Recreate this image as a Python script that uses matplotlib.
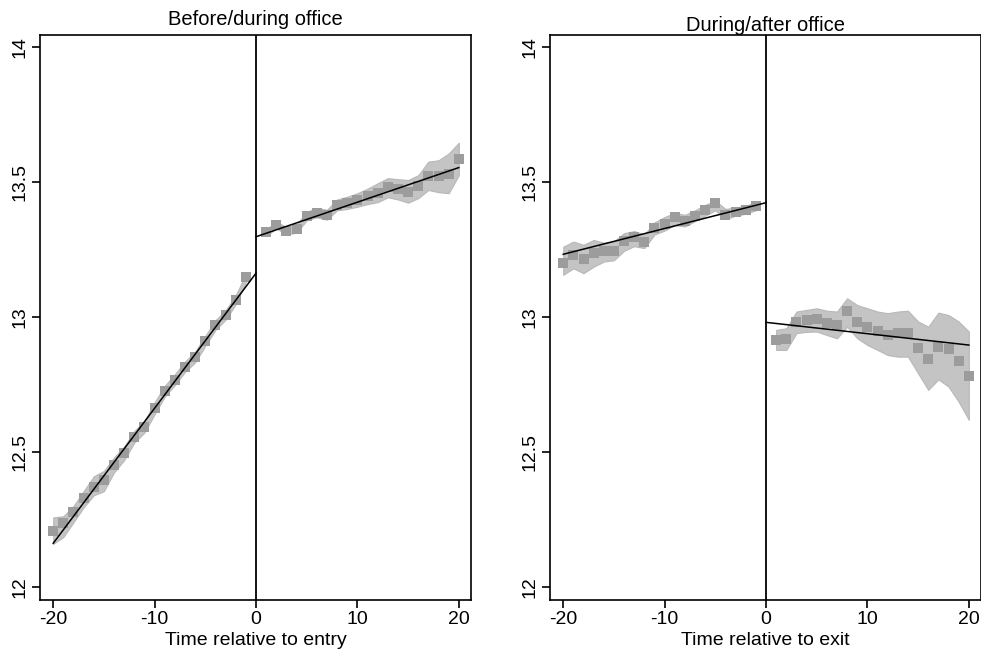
import numpy as np
from matplotlib import pyplot as plt

plt.rcParams['font.family'] = ['Liberation Sans', 'DejaVu Sans']
plt.rcParams['axes.unicode_minus'] = False

# left panel: time relative to entry
entry_pre_t = list(range(-20, 0))
entry_pre_y = [12.209, 12.236, 12.279, 12.328, 12.372, 12.396, 12.452, 12.495, 12.557, 12.594,
               12.662, 12.727, 12.767, 12.815, 12.852, 12.912, 12.970, 13.007, 13.063, 13.147]
entry_pre_lo = [12.160, 12.185, 12.240, 12.295, 12.340, 12.355, 12.425, 12.470, 12.535, 12.572,
                12.640, 12.705, 12.748, 12.797, 12.832, 12.893, 12.952, 12.990, 13.047, 13.130]
entry_pre_hi = [12.258, 12.262, 12.300, 12.355, 12.410, 12.430, 12.480, 12.520, 12.578, 12.615,
                12.684, 12.745, 12.788, 12.835, 12.872, 12.930, 12.988, 13.025, 13.080, 13.160]
entry_post_t = list(range(1, 21))
entry_post_y = [13.314, 13.341, 13.319, 13.327, 13.374, 13.386, 13.378, 13.415, 13.423, 13.433,
                13.446, 13.460, 13.480, 13.473, 13.464, 13.483, 13.522, 13.520, 13.528, 13.584]
entry_post_lo = [13.300, 13.328, 13.305, 13.312, 13.358, 13.369, 13.360, 13.395, 13.400, 13.408,
                 13.418, 13.425, 13.443, 13.435, 13.423, 13.440, 13.470, 13.462, 13.458, 13.525]
entry_post_hi = [13.325, 13.352, 13.333, 13.342, 13.390, 13.402, 13.397, 13.435, 13.445, 13.458,
                 13.475, 13.495, 13.514, 13.510, 13.507, 13.525, 13.575, 13.580, 13.605, 13.645]
entry_fit_pre = ([-20, 0], [12.162, 13.162])
entry_fit_post = ([0, 20], [13.297, 13.553])

# right panel: time relative to exit
exit_pre_t = list(range(-20, 0))
exit_pre_y = [13.199, 13.230, 13.214, 13.236, 13.246, 13.246, 13.281, 13.295, 13.279, 13.329,
              13.344, 13.369, 13.357, 13.375, 13.396, 13.421, 13.378, 13.390, 13.396, 13.409]
exit_pre_lo = [13.156, 13.180, 13.162, 13.186, 13.205, 13.210, 13.245, 13.262, 13.255, 13.305,
               13.320, 13.340, 13.335, 13.355, 13.375, 13.395, 13.362, 13.375, 13.382, 13.395]
exit_pre_hi = [13.260, 13.279, 13.267, 13.285, 13.275, 13.280, 13.310, 13.318, 13.305, 13.350,
               13.370, 13.385, 13.378, 13.395, 13.415, 13.430, 13.400, 13.405, 13.412, 13.425]
exit_post_t = list(range(1, 21))
exit_post_y = [12.915, 12.917, 12.983, 12.987, 12.991, 12.979, 12.970, 13.023, 12.983, 12.964,
               12.949, 12.933, 12.940, 12.940, 12.884, 12.843, 12.890, 12.880, 12.837, 12.781]
exit_post_lo = [12.878, 12.878, 12.940, 12.945, 12.946, 12.933, 12.921, 12.964, 12.921, 12.896,
                12.878, 12.859, 12.853, 12.853, 12.791, 12.730, 12.769, 12.742, 12.686, 12.619]
exit_post_hi = [12.952, 12.958, 13.020, 13.026, 13.032, 13.023, 13.020, 13.069, 13.044, 13.032,
                13.020, 13.014, 13.020, 13.023, 12.983, 12.964, 13.016, 13.007, 12.983, 12.946]
exit_fit_pre = ([-20, 0], [13.232, 13.423])
exit_fit_post = ([0, 20], [12.980, 12.896])

band_col = '#c4c4c4'
dot_col = '#9c9c9c'


def panel(ax, segs, fits, title, xlabel, title_pad):
    for t, y, lo, hi in segs:
        ax.fill_between(t, lo, hi, color=band_col, edgecolor='#b8b8b8', lw=0.8, zorder=1)
        ax.plot(t, y, 's', color=dot_col, markersize=6.5, markeredgewidth=0, zorder=2)
    for fx, fy in fits:
        ax.plot(fx, fy, color='black', lw=1.1, zorder=3)
    ax.axvline(0, color='black', lw=1.3, zorder=3)
    ax.set_xlim(-21.3, 21.2)
    ax.set_ylim(11.952, 14.044)
    ax.set_xticks([-20, -10, 0, 10, 20])
    ax.set_yticks([12, 12.5, 13, 13.5, 14])
    ax.set_yticklabels(['12', '12.5', '13', '13.5', '14'], rotation=90, va='center')
    ax.tick_params(direction='out', length=6, width=1.2, labelsize=14, pad=2)
    for s in ax.spines.values():
        s.set_linewidth(1.2)
    ax.set_title(title, fontsize=14.5, pad=title_pad)
    ax.set_xlabel(xlabel, fontsize=14, labelpad=3)


fig = plt.figure(figsize=(9.81, 6.51), dpi=100)
ax1 = fig.add_axes([0.0408, 0.0783, 0.4393, 0.868])
ax2 = fig.add_axes([0.5607, 0.0783, 0.4393, 0.868])

panel(ax1,
      [(entry_pre_t, entry_pre_y, entry_pre_lo, entry_pre_hi),
       (entry_post_t, entry_post_y, entry_post_lo, entry_post_hi)],
      [entry_fit_pre, entry_fit_post],
      'Before/during office', 'Time relative to entry', 7)
panel(ax2,
      [(exit_pre_t, exit_pre_y, exit_pre_lo, exit_pre_hi),
       (exit_post_t, exit_post_y, exit_post_lo, exit_post_hi)],
      [exit_fit_pre, exit_fit_post],
      'During/after office', 'Time relative to exit', 3)

fig.savefig('out.png', dpi=100)
